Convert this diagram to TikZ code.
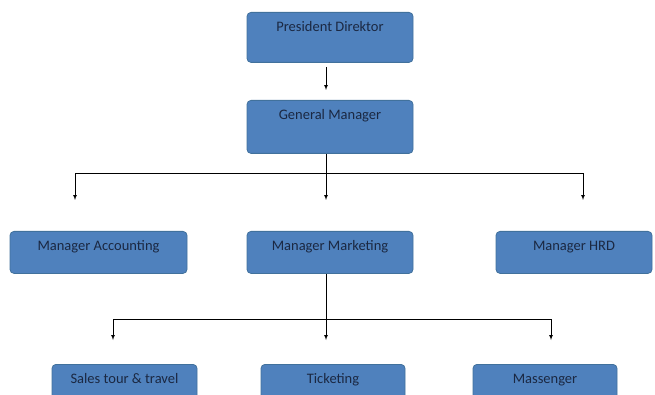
\documentclass[tikz,border=0pt]{standalone}
\usepackage{fontspec}
\setmainfont{Carlito}
\usetikzlibrary{positioning, arrows, calc}

\definecolor{boxfill}{HTML}{4F81BD}
\definecolor{boxline}{HTML}{41719C}
\definecolor{boxtext}{HTML}{1B2842}

\tikzset{
    unitbox/.style={draw=boxline, fill=boxfill, rounded corners=4pt, line width=0.8pt,
        inner xsep=0pt, inner ysep=0pt, anchor=north, text=boxtext,
        font=\fontsize{14.5}{16}\selectfont, text height=19.5pt},
    link/.style={black, line width=0.7pt},
    arr/.style={link, -latex}
}

\begin{document}
\begin{tikzpicture}[x=1pt, y=1pt]
        \useasboundingbox (0,0) rectangle (655,-395);
        \clip (0,0) rectangle (655,-395);

        % boxes
        \node[unitbox, minimum width=166pt, text depth=30.5pt] (pd) at (330,-12) {President Direktor};
        \node[unitbox, minimum width=166pt, text depth=33.5pt] (gm) at (330,-100) {General Manager};

        \node[unitbox, minimum width=177pt, text depth=22.5pt] (acc) at (98.5,-231) {Manager Accounting};
        \node[unitbox, minimum width=166pt, text depth=22.5pt] (mkt) at (330,-231) {Manager Marketing};
        \node[unitbox, minimum width=156pt, text depth=22.5pt] (hrd) at (574,-231) {Manager HRD};

        \node[unitbox, minimum width=145pt, text depth=26pt] (sales) at (124.5,-364) {Sales tour \& travel};
        \node[unitbox, minimum width=144pt, text depth=26pt] (tick) at (333,-364) {Ticketing};
        \node[unitbox, minimum width=144pt, text depth=26pt] (mass) at (545,-364) {Massenger};

        % arrow ends and bus points
        \coordinate (bus1) at (326,-173);
        \coordinate (accin) at (75,-200);
        \coordinate (mktin) at (326,-200);
        \coordinate (hrdin) at (583,-200);
        \coordinate (bus2) at (326,-319);
        \coordinate (salesin) at (113,-340);
        \coordinate (tickin) at (326,-340);
        \coordinate (massin) at (551,-340);
        \coordinate (gmin) at (326,-90);

        % president to general manager
        \draw[arr] ($(pd.south -| gmin)+(0,-4)$) -- (gmin);

        % general manager to managers
        \draw[link] (gm.south -| bus1) -- (bus1);
        \draw[arr] (bus1) -| (accin);
        \draw[arr] (bus1) -- (mktin);
        \draw[arr] (bus1) -| (hrdin);

        % marketing to staff
        \draw[link] (mkt.south -| bus2) -- (bus2);
        \draw[arr] (bus2) -| (salesin);
        \draw[arr] (bus2) -- (tickin);
        \draw[arr] (bus2) -| (massin);
\end{tikzpicture}
\end{document}
